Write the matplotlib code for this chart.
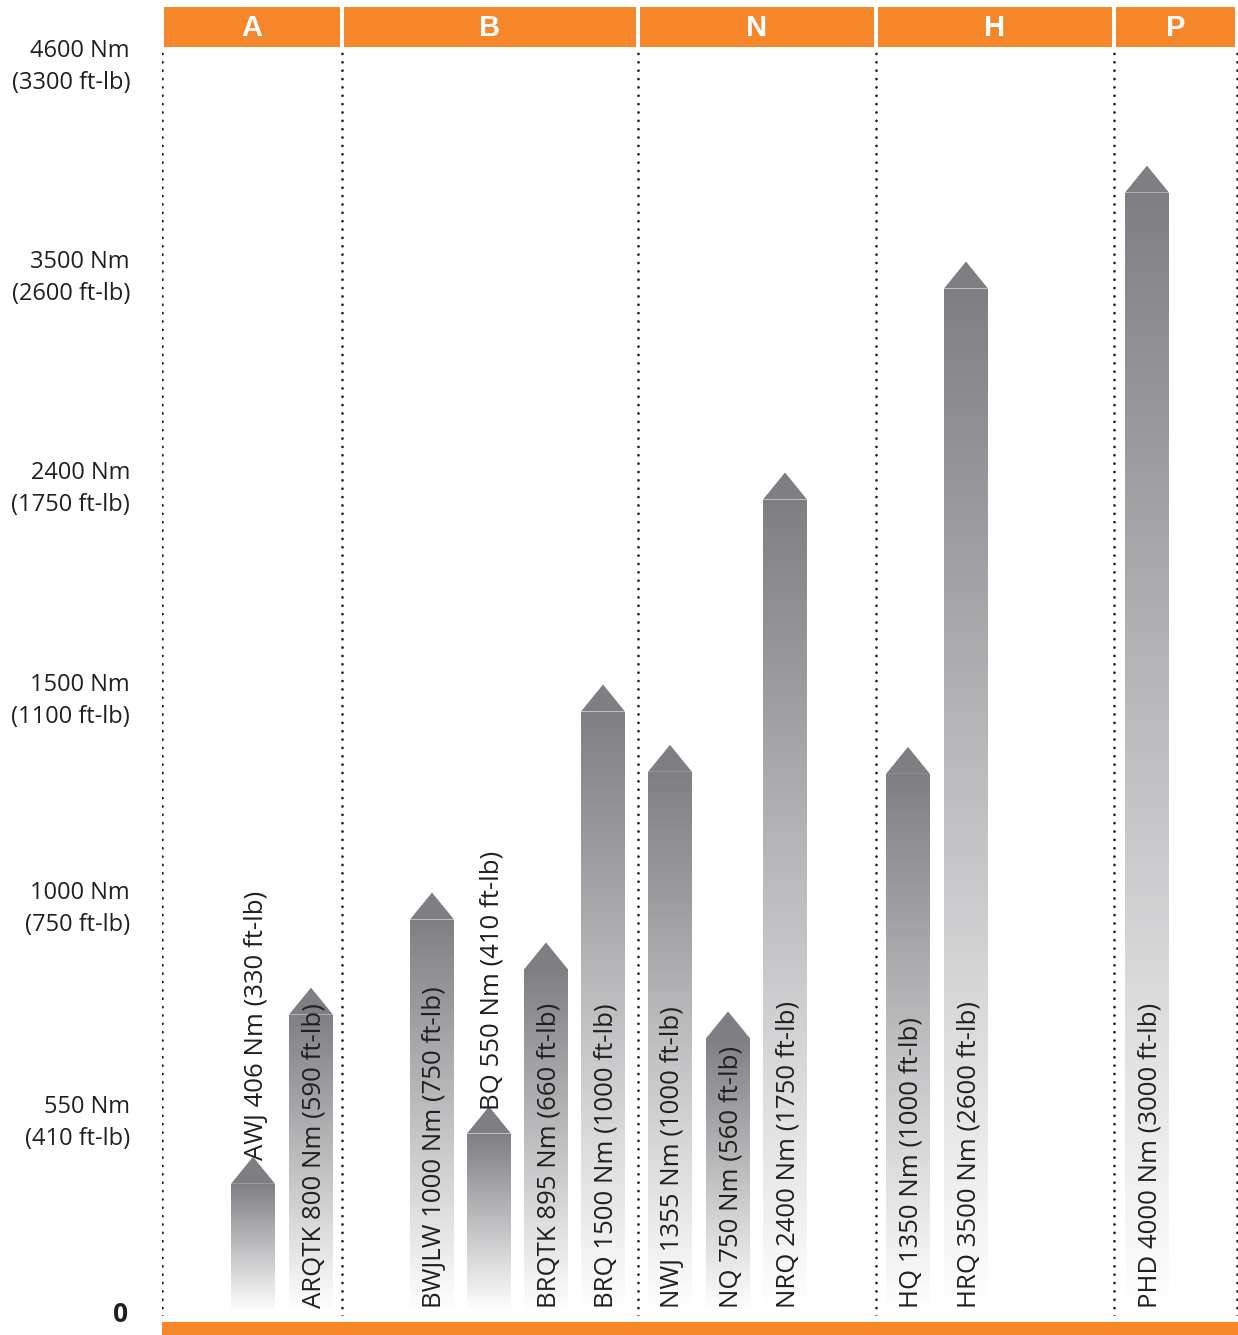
import numpy as np
import matplotlib
matplotlib.use("Agg")
import matplotlib.pyplot as plt
import matplotlib.transforms as mtransforms
from matplotlib.patches import Rectangle, Polygon
from matplotlib.collections import PolyCollection

# ---------------- data ----------------
groups = ["A", "B", "N", "H", "P"]
models = ["AWJ", "ARQTK", "BWJLW", "BQ", "BRQTK", "BRQ",
          "NWJ", "NQ", "NRQ", "HQ", "HRQ", "PHD"]
torque_nm = [406, 800, 1000, 550, 895, 1500, 1355, 750, 2400, 1350, 3500, 4000]
torque_ftlb = [330, 590, 750, 410, 660, 1000, 1000, 560, 1750, 1000, 2600, 3000]
tick_nm = [0, 550, 1000, 1500, 2400, 3500, 4600]
tick_ftlb = [None, 410, 750, 1100, 1750, 2600, 3300]

# ---------------- layout / style ----------------
W, H = 1238, 1335
ORANGE = "#F5872A"
INK = "#231F20"
TOP_GREY = np.array([126, 126, 131]) / 255.0
FONT = ["Open Sans", "DejaVu Sans"]

bar_x = [91, 149, 270, 327, 384, 441, 508, 566, 623, 746, 804, 985]
separators = [0, 180, 476, 714, 952, 1075]
bar_w = 44
head_h = 27

# piecewise-linear torque axis: evenly spaced gridlines of unequal steps
scale_vals = np.array([-550.0] + tick_nm + [5700.0])
scale_pos = np.array([-192.0, 0, 192, 406, 614, 826, 1037, 1248, 1459])


def fwd(v):
    return np.interp(v, scale_vals, scale_pos)


def inv(p):
    return np.interp(p, scale_pos, scale_vals)


plt.rcParams["font.family"] = FONT

fig = plt.figure(figsize=(W / 100, H / 100), dpi=100)
ax = fig.add_axes([162 / W, (H - 1316) / H, (1238 - 162) / W, (1316 - 50) / H])
ax.set_yscale("function", functions=(fwd, inv))
ax.set_xlim(0, 1076)
ax.set_ylim(inv(-4), inv(1262))
for s in ax.spines.values():
    s.set_visible(False)
ax.set_xticks([])
ax.set_yticks(tick_nm)
ax.set_yticklabels([])
ax.yaxis.set_minor_locator(matplotlib.ticker.NullLocator())
ax.tick_params(axis="y", length=0)

# group separators
for sx in separators:
    ax.axvline(sx, color=INK, lw=2.0, linestyle=(0, (0.01, 3.0)),
               dash_capstyle="round", zorder=1)

# gradient arrows
n_strips = 160
for x, v, m, ft in zip(bar_x, torque_nm, models, torque_ftlb):
    p = fwd(v)
    body_top = p - head_h / 2
    tip = p + head_h / 2
    edges = np.linspace(0, body_top, n_strips + 1)
    verts, cols = [], []
    for e0, e1 in zip(edges[:-1], edges[1:]):
        y0, y1 = inv(e0), inv(min(e1 + 0.8, body_top))
        verts.append([(x - bar_w / 2, y0), (x + bar_w / 2, y0),
                      (x + bar_w / 2, y1), (x - bar_w / 2, y1)])
        f = (body_top - (e0 + e1) / 2) / body_top
        cols.append(TOP_GREY + (1 - TOP_GREY) * f)
    ax.add_collection(PolyCollection(verts, facecolors=cols, edgecolors="none",
                                     linewidths=0, antialiased=False, zorder=2))
    ax.add_patch(Polygon([(x - bar_w / 2, inv(body_top)),
                          (x + bar_w / 2, inv(body_top)),
                          (x, inv(tip))], closed=True,
                         facecolor=TOP_GREY, edgecolor="none", zorder=2))
    label = f"{m} {v} Nm ({ft} ft-lb)"
    ybase = inv(4) if v >= 600 else inv(tip - 3)
    ax.text(x + 3, ybase, label, rotation=90, ha="center", va="bottom",
            fontsize=18.5, color=INK, zorder=3)

# torque axis labels, right-aligned left of the plot area
ylab_tf = ax.get_yaxis_transform()
for n, f in zip(tick_nm, tick_ftlb):
    if f is None:
        off = mtransforms.ScaledTranslation(-34 / 100, -2 / 100,
                                            fig.dpi_scale_trans)
        ax.text(0, n, "0", transform=ylab_tf + off, ha="right", va="center",
                fontsize=19, fontweight="bold", color=INK, clip_on=False)
    else:
        off = mtransforms.ScaledTranslation(-32 / 100, -3 / 100,
                                            fig.dpi_scale_trans)
        ax.text(0, n, f"{n} Nm\n({f} ft-lb)", transform=ylab_tf + off,
                ha="right", va="center", multialignment="right",
                fontsize=17, color=INK, linespacing=1.45, clip_on=False)

# group header
hx = fig.add_axes([162 / W, (H - 47) / H, 1076 / W, 40 / H])
hx.set_xlim(0, 1076)
hx.set_ylim(0, 1)
hx.axis("off")
for g, a, b in zip(groups, separators[:-1], separators[1:]):
    hx.add_patch(Rectangle((a + 2, 0), b - a - 4, 1, facecolor=ORANGE,
                           edgecolor="none"))
    hx.text((a + b) / 2, 0.47, g, ha="center", va="center", color="white",
            fontsize=21, fontweight="bold",
            family=["Liberation Sans", "DejaVu Sans"])

# baseline band
fig.patches.append(Rectangle((162 / W, 0), 1076 / W, 13 / H,
                             transform=fig.transFigure, facecolor=ORANGE,
                             edgecolor="none"))

fig.savefig("out.png", dpi=100, facecolor="white")
